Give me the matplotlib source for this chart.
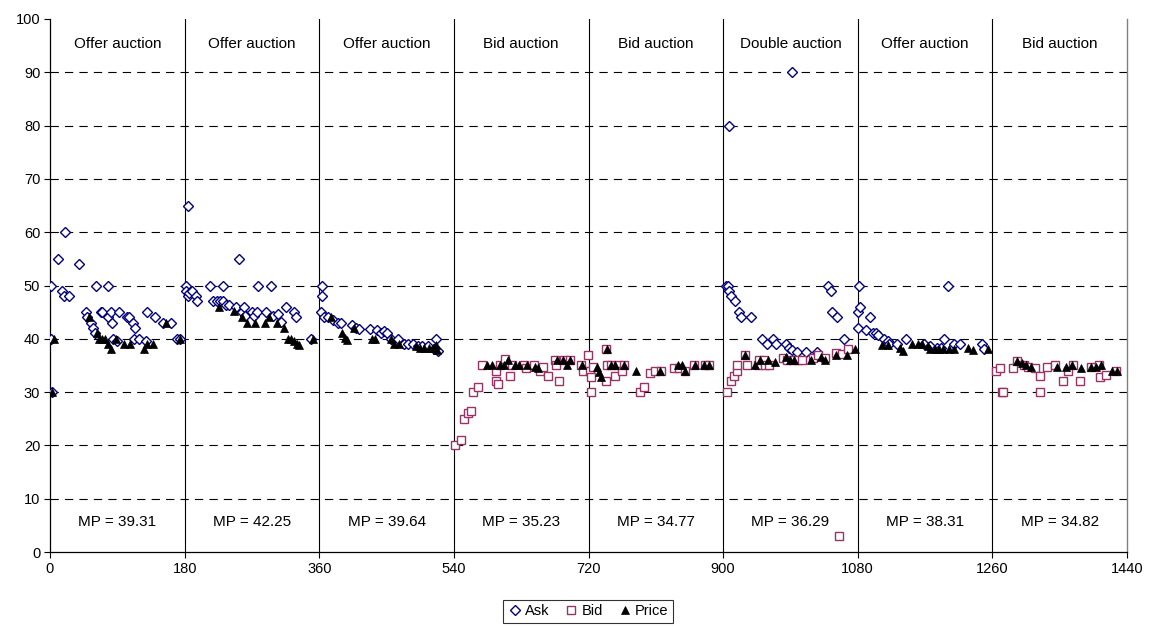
import matplotlib
matplotlib.use("Agg")
import matplotlib.pyplot as plt
from matplotlib.lines import Line2D

plt.rcParams['font.family'] = ['Liberation Sans', 'DejaVu Sans']

# ---------------- data ----------------
auction_names = ["Offer auction", "Offer auction", "Offer auction", "Bid auction",
                 "Bid auction", "Double auction", "Offer auction", "Bid auction"]
mp_values = ["39.31", "42.25", "39.64", "35.23", "34.77", "36.29", "38.31", "34.82"]
x_ticks = [0, 180, 360, 540, 720, 900, 1080, 1260, 1440]

ask_x = [1.5, 1.5, 2.7, 11, 15.6, 18.8, 20.5, 25.9, 39, 48.2, 49.1, 54.5, 58, 60.3, 61, 68.8, 69.7,
         77.7, 78.2, 82.2, 82.6, 84.9, 89.3, 92, 103.6, 105, 110.8, 111.7, 113.9, 118.4, 128.6,
         129.5, 139.8, 151, 162, 169.7, 173.3,
         181.4, 182.3, 184.3, 185, 185.8, 190.3, 195.7, 196.5, 214.4, 218, 223, 227.8, 231.4,
         231.4, 235, 239.4, 248.4, 252.9, 257.3, 259, 260.9, 270.7, 272.5, 277, 277.8, 288.6,
         295.7, 298, 305.5, 309, 315.8, 326, 329.2, 348.4,
         362.7, 364, 364, 366.3, 371.5, 378.8, 385.5, 389.5, 404.3, 408.8, 413.2, 428, 437.8,
         442.2, 446.7, 451, 456.5, 465.5, 473.5, 478, 484.7, 491.4, 498, 504.8, 512.8, 516, 518.2,
         903.8, 905.9, 908, 908.3, 910.5, 915.6, 920.7, 923.3, 937.5, 951.8, 959, 966.1, 971.2,
         983.4, 987.5, 991.8, 992.6, 998.7, 1011.2, 1025, 1039.7, 1043.7, 1045.8, 1052.9, 1061,
         1080.5, 1080.5, 1081.5, 1082.5, 1090.7, 1095.8, 1101, 1104.5, 1107, 1114.7, 1119.8,
         1122.3, 1132.6, 1144.3, 1168.3, 1176, 1186.2, 1191.3, 1195.6, 1200, 1209, 1216.8,
         1246.4, 1249]
ask_y = [50, 40, 30, 55, 49, 48, 60, 48, 54, 45, 44, 43, 42, 41, 50, 45, 45,
         50, 44, 45, 43, 40, 39.5, 45, 44, 44, 43, 40, 42, 40, 39.5,
         45, 44, 43, 43, 40, 40,
         50, 49, 65, 48, 48.6, 49, 48, 47, 50, 47, 47, 47, 50,
         47, 46.4, 46.4, 46, 55, 45, 46, 44.3, 45, 44.2, 45, 50, 45,
         50, 44.2, 44.6, 43.1, 46, 45, 44, 40,
         45, 50, 48, 44, 44, 43.6, 43, 43, 42.5, 42, 41.8, 41.9, 41.6,
         41, 41.4, 41, 40, 40, 39, 39, 39, 38.6, 38.6, 38.6, 38.1, 40, 37.8,
         50, 50, 49, 80, 48, 47, 45, 44, 44, 40, 39, 40, 39,
         39, 38.3, 90, 37.9, 37.6, 37.6, 37.6, 50, 49, 45, 44, 40,
         45, 42, 50, 46, 41.6, 44, 41, 41, 40.8, 40, 39.5,
         39, 39, 40, 39, 38.6, 38.3, 38.3, 40, 50, 39, 39,
         39, 38]

bid_x = [541.8, 548.9, 553.3, 558.7, 563.1, 565.8, 572, 577.8, 596, 596.9, 599.5, 602.2, 608.9,
         615.6, 617.8, 633.3, 636.9, 647.6, 654.7, 659, 665.3, 675.6, 676.9, 680, 686.7, 694.7,
         710.2, 712.4, 718.7,
         722, 723, 724, 726.6, 743.5, 743.5, 744.5, 749.6, 755.7, 758.8, 765, 767.5, 789.4, 794,
         801.7, 808.3, 817, 833.9, 841.5, 849.5, 861, 876.2, 881.3,
         905.3, 910.5, 914, 918, 919.1, 929.3, 932.4, 946.2, 947.7, 954.9, 956.4, 961.5, 979.5,
         985.7, 993.7, 999.8, 1004.9, 1020.2, 1026.4, 1035.6, 1050.9, 1055, 1058.5, 1067.2,
         1264.3, 1270.4, 1272.9, 1274.5, 1288.2, 1293.3, 1302.6, 1307.7, 1316.9, 1323.5, 1324,
         1332.7, 1344, 1354, 1361.7, 1368.3, 1376.6, 1391.9, 1402.1, 1403.6, 1412.3, 1425]
bid_y = [20, 21, 25, 26, 26.5, 30, 31, 35, 34, 32, 31.6, 35, 36.2,
         33.1, 35, 35, 34.5, 35, 34, 34.7, 33.1, 36, 35, 32, 36, 36,
         35, 34, 37,
         34, 30, 32.8, 34.8, 32, 38.1, 35, 35, 33, 35, 34, 35, 30, 31,
         33.6, 34, 34, 34.6, 34.6, 34, 35.1, 35.1, 35.1,
         30, 32, 33, 34, 35, 37, 35, 35, 36, 36, 35, 35, 36.4,
         36, 36, 36, 36, 36.4, 36.9, 36.4, 37.3, 3, 37.1, 38,
         34, 34.6, 30, 30, 34.6, 35.8, 35.1, 34.8, 34.6, 30, 33,
         34.8, 35, 32, 34, 35, 32, 34.8, 35.1, 32.9, 33.3, 34]

price_x = [2.7, 5.4, 52.7, 62.5, 66.1, 69.7, 74.2, 78.2, 82.2, 88.4, 99.2, 107.2, 126, 129.5,
           137.6, 155.4, 174.2,
           226, 246, 256.8, 263.5, 274.7, 288, 292.6, 303.8, 312.7, 318, 321.6, 326, 330.6,
           333.2, 352,
           376, 390.9, 394.4, 397.6, 406.5, 431, 434.2, 455.6, 460, 466.8, 489, 495, 500.3, 507,
           511.5, 516, 518,
           584.4, 591.1, 602.2, 606.7, 612, 622.2, 626.7, 637.8, 648.9, 652, 678.2, 686.2, 691.1,
           695, 711.1,
           731.7, 734.3, 736.9, 744.5, 750.6, 755.7, 767.5, 783.3, 815, 839, 845.6, 849.2, 862,
           874.8, 881.3,
           929.3, 942.6, 948.7, 960, 969.2, 983.5, 989.7, 994.7, 1017.7, 1030.5, 1036.6, 1050.9,
           1065.2, 1076.4,
           1113, 1119.8, 1136.5, 1140.2, 1153, 1160.7, 1165.8, 1173.5, 1176, 1183.6, 1188.8,
           1193.9, 1201.5, 1208.2, 1227.5, 1234.7, 1254,
           1293.3, 1299.9, 1305, 1311.7, 1346.5, 1358.3, 1366.9, 1378.7, 1391.9, 1398.5, 1404.6,
           1419.5, 1426.2]
price_y = [30, 40, 44, 41, 40, 40, 40, 39, 38, 40, 39, 39, 38, 39,
           39, 43, 40,
           46, 45.3, 44, 43, 43, 43, 44, 43, 42, 40, 40, 39.5, 39,
           38.8, 40,
           44, 41, 40.1, 39.8, 42, 40, 40, 40, 39, 39, 38.6, 38.3, 38.3, 38.3,
           38.3, 38.9, 37.9,
           35, 35, 35, 35, 36, 35, 35, 35, 34.8, 34.5, 36, 36, 35,
           36, 35,
           34.8, 33.8, 32.9, 38, 35, 35, 35, 34, 34, 35, 35, 34, 35,
           35, 35,
           37, 35, 36, 36, 35.6, 36.5, 36, 36, 36, 36.5, 36, 37,
           37, 38,
           38.9, 38.9, 38.3, 37.8, 39, 39, 39, 38.6, 38, 38, 38,
           38, 38, 38, 38.3, 37.9, 38,
           35.8, 35.4, 35, 34.8, 34.8, 34.8, 35, 34.5, 34.8, 34.8, 35,
           34, 34]

# ---------------- figure ----------------
fig = plt.figure(figsize=(11.49, 6.27), dpi=100)
ax = fig.add_axes([50 / 1149, 75 / 627, 1077 / 1149, 533 / 627])

ask_color = "#000080"
bid_color = "#993366"

ax.plot(ask_x, ask_y, linestyle="none", marker="D", markersize=4.6, markerfacecolor="white",
        markeredgecolor=ask_color, markeredgewidth=1.0, zorder=3, label="Ask")
ax.plot(bid_x, bid_y, linestyle="none", marker="s", markersize=6.2, markerfacecolor="white",
        markeredgecolor=bid_color, markeredgewidth=1.0, zorder=4, label="Bid")
ax.plot(price_x, price_y, linestyle="none", marker="^", markersize=6.0, markerfacecolor="black",
        markeredgecolor="black", markeredgewidth=0.5, zorder=5, label="Price")

ax.set_xlim(0, 1440)
ax.set_ylim(0, 100)
ax.set_xticks(x_ticks)
ax.set_yticks(range(0, 101, 10))
ax.tick_params(axis="both", direction="out", length=4, width=0.8, labelsize=10.5, pad=3,
               colors="black")

for yv in range(10, 100, 10):
    ax.axhline(yv, color="black", linewidth=0.8, dashes=(7.5, 5.5), zorder=1)
for xv in x_ticks[1:-1]:
    ax.axvline(xv, color="black", linewidth=0.8, zorder=1)

for i, (name, mp) in enumerate(zip(auction_names, mp_values)):
    xc = x_ticks[i] + 90
    ax.text(xc, 95.4, name, ha="center", va="center", fontsize=11)
    ax.text(xc, 5.6, "MP = " + mp, ha="center", va="center", fontsize=11)

ax.spines["top"].set_visible(False)
ax.spines["right"].set_color("#808080")
ax.spines["right"].set_linewidth(1.0)
ax.spines["left"].set_linewidth(0.9)
ax.spines["bottom"].set_linewidth(0.9)

leg = fig.legend(loc="lower center", bbox_to_anchor=(588 / 1149, 0.0), ncol=3, frameon=True,
                 fontsize=10.5, handletextpad=0.2, columnspacing=1.0, borderpad=0.3,
                 handlelength=1.0, fancybox=False, edgecolor="black", borderaxespad=0.3)
leg.get_frame().set_linewidth(0.8)

fig.savefig("out.png", dpi=100)
